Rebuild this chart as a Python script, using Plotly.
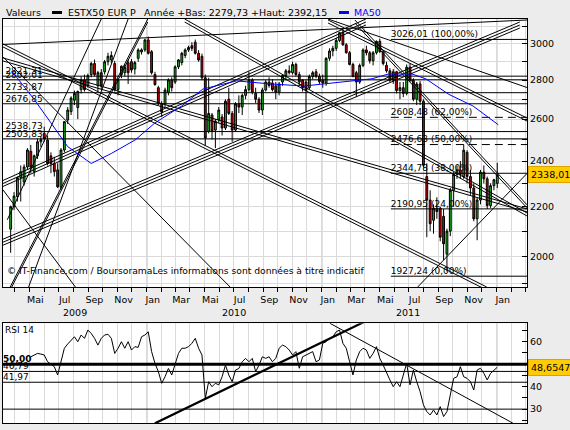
import plotly.graph_objects as go
import pandas as pd
import numpy as np

# ---------------- data ----------------
week_start = "2009-03-23"   # Monday of first weekly candle

opens = [2108, 2200, 2243, 2326, 2306, 2373, 2445, 2352, 2424, 2490,
         2530, 2498, 2424, 2389, 2360, 2283, 2451, 2595, 2637, 2695,
         2658, 2750, 2801, 2775, 2830, 2890, 2770, 2840, 2845, 2900,
         2910, 2890, 2750, 2830, 2840, 2895, 2900, 2860, 2919, 2955,
         2966, 3023, 2956, 2830, 2760, 2677, 2677, 2737, 2801, 2790,
         2872, 2895, 2935, 2966, 2990, 3010, 2947, 2930, 2813, 2540,
         2620, 2546, 2595, 2610, 2556, 2700, 2628, 2546, 2677, 2660,
         2720, 2750, 2801, 2730, 2700, 2645, 2748, 2790, 2785, 2770,
         2737, 2790, 2825, 2850, 2840, 2885, 2830, 2800, 2790, 2760,
         2820, 2845, 2820, 2800, 2785, 2919, 2960, 2975, 3020, 3068,
         2995, 2950, 2885, 2840, 2790, 2880, 2966, 2950, 2905, 2950,
         3015, 2956, 2880, 2850, 2800, 2845, 2745, 2760, 2730, 2870,
         2800, 2700, 2780, 2690, 2330, 2228, 2144, 2194, 2194, 2160,
         2010, 2100, 2270, 2340, 2360, 2330, 2440, 2330, 2280, 2150,
         2228, 2350, 2320, 2205, 2290, 2300]
highs = [2205, 2262, 2330, 2380, 2385, 2460, 2475, 2430, 2505, 2515,
         2562, 2520, 2440, 2420, 2390, 2460, 2590, 2660, 2715, 2745,
         2745, 2820, 2830, 2835, 2900, 2912, 2850, 2860, 2910, 2950,
         2958, 2905, 2810, 2880, 2885, 2910, 2915, 2905, 2975, 2975,
         3030, 3042, 2965, 2845, 2770, 2690, 2760, 2810, 2815, 2880,
         2915, 2955, 2975, 2990, 3010, 3025, 2965, 2945, 2830, 2813,
         2630, 2600, 2660, 2625, 2700, 2760, 2640, 2685, 2720, 2730,
         2770, 2845, 2810, 2760, 2710, 2760, 2800, 2815, 2805, 2790,
         2790, 2830, 2860, 2880, 2900, 2895, 2845, 2805, 2800, 2830,
         2850, 2860, 2835, 2830, 2925, 2975, 2990, 3035, 3070, 3080,
         3005, 2960, 2895, 2850, 2890, 2975, 2990, 2960, 2960, 3020,
         3030, 2965, 2900, 2865, 2860, 2850, 2790, 2790, 2885, 2890,
         2810, 2790, 2795, 2700, 2390, 2270, 2210, 2240, 2200, 2190,
         2110, 2280, 2350, 2380, 2400, 2476, 2450, 2360, 2300, 2240,
         2360, 2380, 2330, 2300, 2320, 2392]
lows = [2015, 2186, 2222, 2222, 2290, 2360, 2345, 2330, 2410, 2465,
        2490, 2380, 2345, 2330, 2280, 2270, 2440, 2575, 2620, 2670,
        2600, 2730, 2740, 2760, 2815, 2820, 2740, 2750, 2830, 2880,
        2890, 2740, 2720, 2810, 2820, 2780, 2840, 2830, 2900, 2940,
        2955, 2940, 2830, 2770, 2670, 2610, 2660, 2720, 2740, 2780,
        2860, 2880, 2920, 2955, 2960, 2940, 2900, 2800, 2472, 2530,
        2500, 2460, 2580, 2520, 2546, 2620, 2490, 2540, 2630, 2620,
        2700, 2740, 2725, 2680, 2630, 2620, 2740, 2760, 2740, 2700,
        2720, 2770, 2800, 2830, 2830, 2820, 2770, 2740, 2637, 2750,
        2805, 2810, 2780, 2760, 2770, 2905, 2930, 2960, 3010, 2990,
        2945, 2880, 2815, 2711, 2780, 2870, 2935, 2890, 2880, 2940,
        2950, 2880, 2840, 2790, 2780, 2730, 2700, 2711, 2720, 2790,
        2690, 2670, 2670, 2370, 2076, 2100, 2090, 2150, 2060, 1987,
        1945, 2080, 2200, 2320, 2320, 2320, 2300, 2250, 2140, 2064,
        2210, 2300, 2190, 2195, 2270, 2280]
closes = [2200, 2245, 2326, 2352, 2373, 2451, 2373, 2424, 2490, 2500,
          2505, 2389, 2389, 2352, 2285, 2451, 2587, 2645, 2706, 2730,
          2740, 2801, 2750, 2825, 2890, 2830, 2840, 2770, 2900, 2930,
          2935, 2750, 2801, 2875, 2870, 2840, 2855, 2895, 2966, 2966,
          3023, 2947, 2840, 2777, 2677, 2635, 2748, 2801, 2760, 2872,
          2910, 2947, 2966, 2980, 2975, 2947, 2910, 2813, 2508, 2628,
          2540, 2590, 2645, 2556, 2690, 2628, 2546, 2677, 2660, 2720,
          2750, 2801, 2737, 2700, 2645, 2748, 2790, 2772, 2750, 2737,
          2780, 2825, 2850, 2840, 2885, 2830, 2790, 2760, 2745, 2820,
          2840, 2820, 2792, 2785, 2919, 2960, 2975, 3020, 3065, 2995,
          2950, 2885, 2820, 2790, 2880, 2966, 2950, 2905, 2950, 3015,
          2956, 2890, 2850, 2800, 2845, 2745, 2760, 2730, 2870, 2800,
          2700, 2780, 2690, 2381, 2228, 2130, 2194, 2180, 2076, 2050,
          2100, 2270, 2340, 2360, 2340, 2450, 2330, 2280, 2150, 2228,
          2350, 2320, 2205, 2290, 2316, 2338.01]

ma_dates = ["2009-03-25", "2009-05-11", "2009-06-15", "2009-07-20", "2009-09-07",
            "2009-10-19", "2009-12-08", "2010-01-18", "2010-03-15", "2010-04-28",
            "2010-07-07", "2010-09-15", "2010-11-25", "2011-02-04", "2011-04-15",
            "2011-05-20", "2011-07-08", "2011-08-06", "2011-09-23", "2011-11-12",
            "2012-01-04"]
ma50 = [2850, 2699, 2581, 2467, 2389, 2435, 2499, 2581, 2666, 2753,
        2796, 2780, 2769, 2787, 2807, 2833, 2833, 2807, 2725, 2666, 2572]

rsi_first_week = 6
rsi14 = [53.3, 54.0, 54.8, 54.5, 54.1, 51.1, 50.0, 48.9, 45.2, 51.1,
         57.1, 59.0, 60.8, 62.2, 60.0, 63.0, 61.5, 65.2, 63.7, 61.5,
         58.5, 61.5, 63.0, 63.3, 61.5, 54.8, 57.1, 60.0, 57.1, 60.0,
         56.3, 57.8, 57.5, 62.2, 63.0, 64.4, 55.6, 50.4, 46.7, 41.5,
         44.4, 48.1, 45.2, 49.6, 54.8, 57.1, 57.1, 57.8, 59.3, 61.5,
         57.1, 54.1, 34.8, 42.2, 40.0, 41.5, 40.8, 44.4, 49.6, 45.2,
         42.2, 47.4, 48.1, 51.1, 52.6, 51.1, 52.6, 46.7, 49.6, 53.3,
         52.6, 53.3, 51.1, 52.6, 57.1, 58.5, 57.8, 56.3, 54.1, 55.6,
         48.2, 53.3, 54.1, 54.8, 55.6, 51.1, 51.9, 59.3, 60.0, 61.5,
         62.2, 64.4, 65.2, 59.3, 57.1, 51.1, 45.2, 51.9, 55.6, 57.1,
         56.3, 52.6, 54.8, 57.8, 52.6, 49.6, 45.9, 43.0, 40.0, 42.2,
         40.0, 45.2, 50.4, 40.8, 47.4, 42.2, 37.8, 31.9, 28.9, 27.4,
         29.6, 27.4, 31.1, 26.7, 28.9, 36.3, 43.7, 44.4, 48.9, 44.4,
         43.7, 42.2, 38.5, 47.4, 48.2, 45.9, 43.0, 45.9, 47.4, 48.6547]

support_levels = [2821.31, 2802.01, 2733.87, 2676.85, 2538.73, 2503.83]

fib_levels = [3026.01, 2608.48, 2476.63, 2344.78, 2190.95, 1927.24]
fib_pct = ["100,00%", "62,00%", "50,00%", "38,00%", "24,00%", "0,00%"]
fib_dashed = [False, True, True, False, False, False]
fib_start = "2011-05-25"

trend_start_date = ["2009-03-07", "2009-03-07", "2009-03-07", "2009-03-07", "2009-03-22",
                    "2009-03-16", "2009-04-27", "2009-03-07", "2009-03-07", "2010-03-21",
                    "2011-03-11", "2011-01-14", "2011-01-14", "2011-07-20", "2009-03-07"]
trend_start_val = [2997, 3000, 2927, 2272, 1888,
                   2146, 1877, 2313, 2068, 3146,
                   3140, 3146, 3140, 1888, 2921]
trend_end_date = ["2012-03-04", "2011-12-11", "2010-06-30", "2009-08-05", "2010-01-03",
                  "2009-09-28", "2009-11-23", "2011-04-03", "2012-02-18", "2012-03-04",
                  "2012-03-04", "2012-03-04", "2012-03-04", "2012-03-04", "2012-03-04"]
trend_end_val = [3140, 1888, 1877, 1888, 3146,
                 3146, 3146, 3146, 3128, 2174,
                 2208, 2761, 2605, 2344, 2191]
trend_strands = [1, 2, 1, 1, 2, 1, 1, 3, 3, 2, 2, 1, 2, 1, 2]

rsi_levels = [50.0, 46.79, 41.97, 30.0]
rsi_level_labels = ["<b>50,00</b>", "46,79", "41,97", ""]
rsi_trend_start_date = ["2010-01-18", "2011-01-18"]
rsi_trend_start_val = [23.7, 68.2]
rsi_trend_end_date = ["2011-03-31", "2012-02-04"]
rsi_trend_end_val = [68.9, 23.7]
rsi_trend_thick = [True, False]

x_range = ["2009-03-07", "2012-03-04"]
label_date = "2009-03-12"
price_range = [1888, 3146]
rsi_range = [23.7, 68.2]

# ---------------- figure ----------------
W, H = 570, 430
FONT = "DejaVu Sans, Verdana, sans-serif"
FS = 9
def px_x(p):
    return p / W
def px_y(p):
    return 1 - p / H
def fr(v, nd=2):
    return f"{v:.{nd}f}".replace(".", ",")

dates = pd.date_range(week_start, periods=len(closes), freq="W-MON")
rsi_dates = dates[rsi_first_week:rsi_first_week + len(rsi14)]

fig = go.Figure()

# horizontal support lines
sx, sy = [], []
for lv in support_levels:
    sx += [x_range[0], x_range[1], None]
    sy += [lv, lv, None]
fig.add_trace(go.Scatter(x=sx, y=sy, mode="lines", line=dict(color="black", width=1),
                         hoverinfo="skip", showlegend=False))

# fibonacci lines
for dashed in (False, True):
    fx, fy = [], []
    for lv, d in zip(fib_levels, fib_dashed):
        if d == dashed:
            fx += [fib_start, x_range[1], None]
            fy += [lv, lv, None]
    fig.add_trace(go.Scatter(x=fx, y=fy, mode="lines",
                             line=dict(color="black", width=1, dash="8px,5px" if dashed else "solid"),
                             hoverinfo="skip", showlegend=False))

# trend lines (parallel strands are offset by a constant ratio on the log axis)
strand_ratio = 0.9943
tx, ty = [], []
for d0, v0, d1, v1, ns in zip(trend_start_date, trend_start_val, trend_end_date,
                              trend_end_val, trend_strands):
    for k in range(ns):
        f = strand_ratio ** k
        tx += [d0, d1, None]
        ty += [v0 * f, v1 * f, None]
fig.add_trace(go.Scatter(x=tx, y=ty, mode="lines", line=dict(color="black", width=1),
                         hoverinfo="skip", showlegend=False))

# labels of support lines and fibonacci levels (under the candles)
fig.add_trace(go.Scatter(x=[label_date] * len(support_levels), y=support_levels,
                         mode="text", text=[fr(v) for v in support_levels],
                         textposition="top right",
                         textfont=dict(family=FONT, size=FS, color="black"),
                         hoverinfo="skip", showlegend=False))
fig.add_trace(go.Scatter(x=[fib_start] * len(fib_levels), y=fib_levels,
                         mode="text",
                         text=[f"{fr(v)} ({p})" for v, p in zip(fib_levels, fib_pct)],
                         textposition="top right",
                         textfont=dict(family=FONT, size=FS, color="black"),
                         hoverinfo="skip", showlegend=False))

# MA50
fig.add_trace(go.Scatter(x=ma_dates, y=ma50, mode="lines", line=dict(color="#0000ff", width=1),
                         hoverinfo="skip", showlegend=False))

# candles
fig.add_trace(go.Candlestick(
    x=dates, open=opens, high=highs, low=lows, close=closes,
    increasing=dict(line=dict(color="black", width=1), fillcolor="#1fbf1f"),
    decreasing=dict(line=dict(color="black", width=1), fillcolor="#d40000"),
    whiskerwidth=0, hoverinfo="skip", showlegend=False, xaxis="x", yaxis="y"))

# RSI panel
rx, ry = [], []
for lv in rsi_levels[1:]:
    rx += [x_range[0], x_range[1], None]
    ry += [lv, lv, None]
fig.add_trace(go.Scatter(x=[x_range[0]] * 3, y=rsi_levels[:3], mode="text",
                         text=rsi_level_labels[:3], textposition="top right",
                         textfont=dict(family=FONT, size=FS, color="black"),
                         hoverinfo="skip", showlegend=False, xaxis="x2", yaxis="y2"))
fig.add_trace(go.Scatter(x=rx, y=ry, mode="lines", line=dict(color="black", width=1),
                         hoverinfo="skip", showlegend=False, xaxis="x2", yaxis="y2"))
fig.add_trace(go.Scatter(x=x_range, y=[rsi_levels[0]] * 2, mode="lines",
                         line=dict(color="black", width=3),
                         hoverinfo="skip", showlegend=False, xaxis="x2", yaxis="y2"))
for d0, v0, d1, v1, thick in zip(rsi_trend_start_date, rsi_trend_start_val,
                                 rsi_trend_end_date, rsi_trend_end_val, rsi_trend_thick):
    fig.add_trace(go.Scatter(x=[d0, d1], y=[v0, v1], mode="lines",
                             line=dict(color="black", width=2.2 if thick else 1),
                             hoverinfo="skip", showlegend=False, xaxis="x2", yaxis="y2"))
fig.add_trace(go.Scatter(x=rsi_dates, y=rsi14, mode="lines", line=dict(color="black", width=1),
                         hoverinfo="skip", showlegend=False, xaxis="x2", yaxis="y2"))

# ---------------- axes ----------------
month_starts = pd.date_range("2009-03-01", "2012-03-01", freq="MS")
month_names = {1: "Jan", 3: "Mar", 5: "Mai", 7: "Jul", 9: "Sep", 11: "Nov"}
last_label = pd.Timestamp("2012-01-01")
month_text = [month_names.get(d.month, "") if d <= last_label else "" for d in month_starts]

dom_x = [px_x(3), px_x(527)]
price_ticks = list(range(1900, 3200, 100))
price_text = [str(v) if v % 200 == 0 else "" for v in price_ticks]
rsi_ticks = list(range(25, 70, 5))
rsi_text = [str(v) if (v % 10 == 0 and v != 50) else "" for v in rsi_ticks]

common_x = dict(type="date", range=x_range, domain=dom_x, tickmode="array",
                tickvals=month_starts, showgrid=True, gridcolor="#dadada", gridwidth=1,
                showline=True, linecolor="black", linewidth=1, mirror=True, zeroline=False)

fig.update_layout(
    width=W, height=H, margin=dict(l=0, r=0, t=0, b=0),
    paper_bgcolor="#ececec", plot_bgcolor="white",
    font=dict(family=FONT, size=FS, color="black"),
    boxgap=0.22,
    xaxis=dict(**common_x, anchor="y", ticktext=month_text, ticks="outside", ticklen=4,
               tickcolor="black", ticklabelshift=6, tickfont=dict(size=FS + 0.5),
               rangeslider=dict(visible=False)),
    yaxis=dict(type="log", range=[np.log10(price_range[0]), np.log10(price_range[1])],
               domain=[px_y(287), px_y(19)], side="right", anchor="x",
               tickmode="array", tickvals=price_ticks, ticktext=price_text,
               ticks="inside", ticklen=5, tickcolor="black", showgrid=True,
               gridcolor="#dadada", showline=True, linecolor="black", mirror=True,
               zeroline=False, tickfont=dict(size=FS + 0.5)),
    xaxis2=dict(**common_x, anchor="y2", matches="x", showticklabels=False, ticks=""),
    yaxis2=dict(range=rsi_range, domain=[px_y(423.3), px_y(323.3)], side="right",
                anchor="x2", tickmode="array", tickvals=rsi_ticks, ticktext=rsi_text,
                ticks="inside", ticklen=5, tickcolor="black", showgrid=False,
                showline=True, linecolor="black", mirror=True, zeroline=False,
                tickfont=dict(size=FS + 0.5)),
)

# darker year-boundary gridlines
for yr in ["2010-01-01", "2011-01-01", "2012-01-01"]:
    for xr, yref in (("x", "y domain"), ("x2", "y2 domain")):
        fig.add_shape(type="line", xref=xr, yref=yref, x0=yr, x1=yr, y0=0, y1=1,
                      line=dict(color="#9a9a9a", width=1), layer="below")

# header
HF = dict(size=9.5, family=FONT, color="black")
ann = []
ann.append(dict(text="Valeurs", x=px_x(4), y=px_y(12.5), xanchor="left", font=HF))
ann.append(dict(text="ESTX50 EUR P", x=px_x(66), y=px_y(12.5), xanchor="left", font=HF))
ann.append(dict(text="Année +Bas: 2279,73 +Haut: 2392,15", x=px_x(142), y=px_y(12.5),
                xanchor="left", font=HF))
ann.append(dict(text="MA50", x=px_x(352), y=px_y(12.5), xanchor="left",
                font=dict(color="#0000ff", size=9.5, family=FONT)))
for a in ann:
    a.update(xref="paper", yref="paper", yanchor="middle", showarrow=False)
fig.add_shape(type="rect", xref="paper", yref="paper", x0=px_x(52), x1=px_x(62),
              y0=px_y(14), y1=px_y(11), fillcolor="black", line=dict(width=0))
fig.add_shape(type="rect", xref="paper", yref="paper", x0=px_x(339), x1=px_x(349),
              y0=px_y(14), y1=px_y(11), fillcolor="#0000ff", line=dict(width=0))

# copyright
ann.append(dict(text="© IT-Finance.com / BoursoramaLes informations sont données à titre indicatif",
                x=px_x(5), y=px_y(270), xref="paper", yref="paper", xanchor="left",
                yanchor="middle", showarrow=False, font=dict(size=9.2, family=FONT)))
# RSI title
ann.append(dict(text="RSI 14", x=px_x(3), y=px_y(330), xref="paper", yref="paper",
                xanchor="left", yanchor="middle", showarrow=False,
                font=dict(size=FS, family=FONT)))
# year labels
for txt, d in [("2009", "2009-08-05"), ("2010", "2010-07-02"), ("2011", "2011-06-29")]:
    ann.append(dict(text=txt, x=d, xref="x", y=px_y(312), yref="paper", xanchor="center",
                    yanchor="middle", showarrow=False, font=dict(size=FS + 0.5, family=FONT)))
# last value labels
ann.append(dict(text=fr(closes[-1]), x=px_x(527.5), xref="paper", y=np.log10(closes[-1]),
                yref="y", xanchor="left", yanchor="middle", showarrow=False,
                bgcolor="#ffcc00", bordercolor="#d9a400", borderwidth=1, borderpad=2,
                font=dict(size=9.5, family=FONT)))
ann.append(dict(text=fr(rsi14[-1], 4), x=px_x(527.5), xref="paper", y=rsi14[-1],
                yref="y2", xanchor="left", yanchor="middle", showarrow=False,
                bgcolor="#ffcc00", bordercolor="#d9a400", borderwidth=1, borderpad=2,
                font=dict(size=9.5, family=FONT)))
fig.update_layout(annotations=ann)

fig.write_html("out.html", config={"displayModeBar": False},
               post_script="document.body.style.margin='0px';")
